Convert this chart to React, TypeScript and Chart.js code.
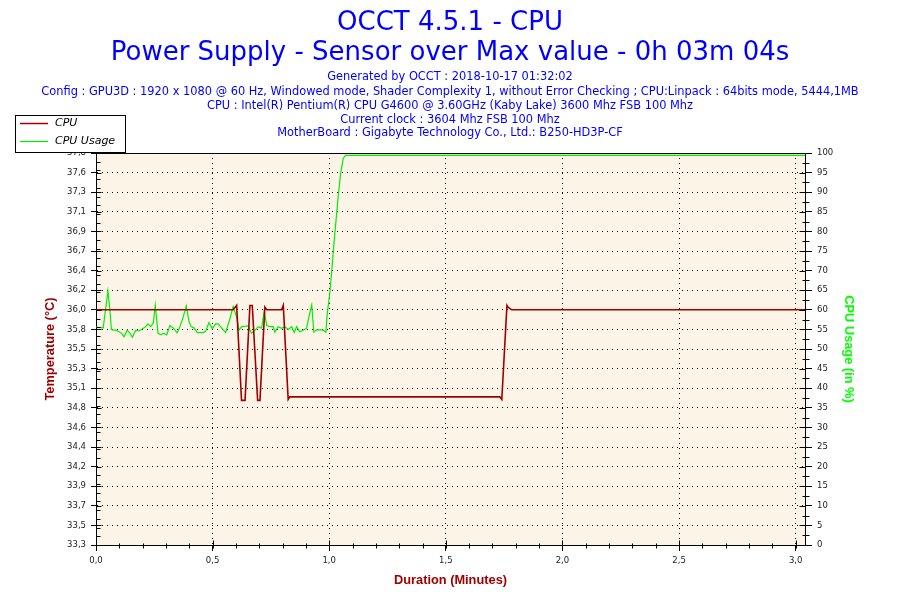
import React, { useEffect, useRef } from 'react';
import { Chart, registerables } from 'chart.js';

Chart.register(...registerables);

const titleLines = ['OCCT 4.5.1 - CPU', 'Power Supply - Sensor over Max value - 0h 03m 04s'];
const infoLines = [
  'Generated by OCCT : 2018-10-17 01:32:02',
  'Config : GPU3D : 1920 x 1080 @ 60 Hz, Windowed mode, Shader Complexity 1, without Error Checking ; CPU:Linpack : 64bits mode, 5444,1MB',
  'CPU : Intel(R) Pentium(R) CPU G4600 @ 3.60GHz (Kaby Lake) 3600 Mhz FSB 100 Mhz',
  'Current clock : 3604 Mhz FSB 100 Mhz',
  'MotherBoard : Gigabyte Technology Co., Ltd.: B250-HD3P-CF',
];
const legendLabels = ['CPU', 'CPU Usage'];
const xTitle = 'Duration (Minutes)';
const yTitle = 'Temperature (°C)';
const y1Title = 'CPU Usage (in %)';

// Temperature series (minutes, °C)
const tempTimes = [0, 0.588, 0.603, 0.624, 0.639, 0.66, 0.67, 0.693, 0.703, 0.724, 0.732, 0.796, 0.803, 0.824, 0.831, 1.732, 1.74, 1.762, 1.767, 1.782, 3.04];
const tempValues = [36.0, 36.0, 36.05, 34.96, 34.96, 36.05, 36.05, 34.96, 34.96, 36.03, 36.0, 36.0, 36.05, 34.97, 35.0, 35.0, 34.97, 36.05, 36.03, 36.0, 36.0];

// CPU usage series (minutes, %)
const usageTimes = [
  0, 0.031, 0.051, 0.059, 0.066, 0.074, 0.086, 0.099, 0.11, 0.12,
  0.134, 0.146, 0.156, 0.17, 0.184, 0.198, 0.213, 0.223, 0.234, 0.246,
  0.254, 0.266, 0.277, 0.291, 0.303, 0.317, 0.334, 0.348, 0.36, 0.374,
  0.387, 0.399, 0.408, 0.42, 0.434, 0.46, 0.47, 0.484, 0.499, 0.513,
  0.524, 0.539, 0.556, 0.574, 0.588, 0.603, 0.613, 0.625, 0.639, 0.653,
  0.667, 0.682, 0.696, 0.71, 0.721, 0.732, 0.746, 0.76, 0.767, 0.781,
  0.796, 0.81, 0.824, 0.839, 0.85, 0.86, 0.874, 0.889, 0.903, 0.913,
  0.925, 0.934, 0.946, 0.96, 0.974, 0.986, 0.991, 1.003, 1.01, 1.017,
  1.024, 1.032, 1.039, 1.049, 1.06, 1.07, 3.04,
];
const usageValues = [
  55.6, 55.4, 64.8, 60.4, 55.0, 54.8, 54.8, 54.4, 54.0, 53.1,
  54.8, 54.0, 53.0, 54.8, 54.6, 55.1, 55.7, 56.4, 55.7, 56.7,
  61.2, 54.0, 53.7, 54.0, 53.6, 56.0, 55.2, 54.1, 55.7, 58.2,
  61.0, 57.0, 55.7, 55.4, 54.2, 54.2, 54.5, 56.7, 55.2, 56.4,
  56.4, 55.3, 54.2, 57.7, 60.8, 58.2, 54.8, 55.7, 55.8, 55.9,
  54.0, 54.8, 55.7, 55.3, 59.6, 56.0, 55.7, 55.7, 54.3, 55.7,
  55.3, 55.7, 55.0, 55.7, 54.2, 55.7, 54.4, 54.8, 55.3, 58.2,
  61.2, 54.3, 54.9, 54.9, 54.8, 54.3, 58.7, 64.6, 69.3, 74.4,
  79.5, 84.6, 89.3, 94.8, 98.6, 99.4, 99.4,
];

const xTickValues = [0, 0.5, 1.0, 1.5, 2.0, 2.5, 3.0];
const tempTickLabels = ['33,3', '33,5', '33,7', '33,9', '34,2', '34,4', '34,6', '34,8', '35,1', '35,3', '35,5', '35,8', '36,0', '36,2', '36,4', '36,7', '36,9', '37,1', '37,3', '37,6', '37,8'];

const X_MIN = 0;
const X_MAX = 3.04;
const TEMP_MIN = 33.3;
const TEMP_MAX = 37.8;
const USAGE_MIN = 0;
const USAGE_MAX = 100;

const RED = '#a00000';
const GREEN = '#00ee00';
const BLUE = '#0000ff';
const CREAM = '#fcf5e7';
const TICK_FONT = { family: 'DejaVu Sans', size: 8.5 };
const AXIS_TITLE_FONT = { family: 'Liberation Sans', size: 12.8, weight: 'bold' as const };

const decorPlugin = {
  id: 'occtDecor',
  beforeDraw(chart: any) {
    const { ctx, chartArea: a } = chart;
    ctx.save();
    ctx.fillStyle = '#ffffff';
    ctx.fillRect(0, 0, chart.width, chart.height);
    ctx.fillStyle = CREAM;
    ctx.fillRect(a.left, a.top, a.right - a.left, a.bottom - a.top);
    ctx.restore();
  },
  beforeDatasetsDraw(chart: any) {
    const { ctx, chartArea: a } = chart;
    ctx.save();
    ctx.strokeStyle = '#000';
    ctx.lineWidth = 1;
    ctx.strokeRect(Math.round(a.left) + 0.5, Math.round(a.top) + 0.5, Math.round(a.right - a.left), Math.round(a.bottom - a.top));
    ctx.restore();
  },
  afterDraw(chart: any) {
    const { ctx, chartArea: a, scales } = chart;
    const xs = scales.x;
    const ys = scales.y;
    const y1s = scales.y1;
    ctx.save();
    ctx.strokeStyle = '#000';
    ctx.lineWidth = 1;
    ctx.beginPath();
    const L = Math.round(a.left) + 0.5;
    const R = Math.round(a.right) + 0.5;
    const B = Math.round(a.bottom) + 0.5;
    // left axis: inner part of majors and minor ticks
    ys.ticks.forEach((t: any) => {
      const y = Math.round(ys.getPixelForValue(t.value)) + 0.5;
      ctx.moveTo(L, y); ctx.lineTo(L + 5, y);
    });
    for (let v = TEMP_MIN; v <= TEMP_MAX + 1e-6; v += 0.1) {
      const y = Math.round(ys.getPixelForValue(v)) + 0.5;
      ctx.moveTo(L, y); ctx.lineTo(L + 4, y);
    }
    // right axis
    y1s.ticks.forEach((t: any) => {
      const y = Math.round(y1s.getPixelForValue(t.value)) + 0.5;
      ctx.moveTo(R - 6, y); ctx.lineTo(R, y);
    });
    for (let v = USAGE_MIN + 2.5; v < USAGE_MAX; v += 5) {
      const y = Math.round(y1s.getPixelForValue(v)) + 0.5;
      ctx.moveTo(R - 3, y); ctx.lineTo(R + 4, y);
    }
    // bottom axis
    xs.ticks.forEach((t: any) => {
      const x = Math.round(xs.getPixelForValue(t.value)) + 0.5;
      ctx.moveTo(x, B); ctx.lineTo(x, B - 5);
    });
    for (let v = 0.1; v < X_MAX; v += 0.1) {
      const x = Math.round(xs.getPixelForValue(v)) + 0.5;
      ctx.moveTo(x, B - 2); ctx.lineTo(x, B + 3);
    }
    ctx.stroke();

    // titles
    ctx.fillStyle = BLUE;
    ctx.textAlign = 'center';
    ctx.textBaseline = 'alphabetic';
    ctx.font = '26px "DejaVu Sans"';
    ctx.fillText(titleLines[0], 450, 29.5);
    ctx.fillText(titleLines[1], 450, 59.5);
    ctx.font = '11.4px "DejaVu Sans"';
    const infoY = [80, 94.5, 108.5, 122.5, 136];
    infoLines.forEach((s, i) => ctx.fillText(s, 450, infoY[i]));

    // legend
    const lx = 15.5, ly = 115.5, lw = 110, lh = 37;
    ctx.fillStyle = '#ffffff';
    ctx.fillRect(lx, ly, lw, lh);
    ctx.strokeStyle = '#000';
    ctx.strokeRect(lx, ly, lw, lh);
    const colors = [RED, GREEN];
    const rows = [123, 141];
    ctx.font = 'italic 11px "DejaVu Sans"';
    ctx.textAlign = 'left';
    ctx.textBaseline = 'middle';
    legendLabels.forEach((lab, i) => {
      ctx.strokeStyle = colors[i];
      ctx.lineWidth = i === 0 ? 1.5 : 1.2;
      ctx.beginPath();
      ctx.moveTo(20, rows[i] + 0.5);
      ctx.lineTo(48, rows[i] + 0.5);
      ctx.stroke();
      ctx.fillStyle = '#000';
      ctx.fillText(lab, 55, rows[i]);
    });
    ctx.restore();
  },
};

export default function App() {
  const ref = useRef<HTMLCanvasElement | null>(null);
  useEffect(() => {
    document.body.style.margin = '0';
    const canvas = ref.current;
    if (!canvas) return;
    const chart = new Chart(canvas, {
      type: 'line',
      data: {
        datasets: [
          {
            label: legendLabels[0],
            data: tempTimes.map((t, i) => ({ x: t, y: tempValues[i] })),
            yAxisID: 'y',
            borderColor: RED,
            borderWidth: 1.6,
            pointRadius: 0,
            tension: 0,
            fill: false,
          },
          {
            label: legendLabels[1],
            data: usageTimes.map((t, i) => ({ x: t, y: usageValues[i] })),
            yAxisID: 'y1',
            borderColor: GREEN,
            borderWidth: 1.2,
            pointRadius: 0,
            tension: 0,
            fill: false,
          },
        ],
      },
      options: {
        animation: false,
        responsive: false,
        devicePixelRatio: 1,
        layout: { padding: { top: 153, left: 0, right: 0, bottom: 0 } },
        plugins: {
          legend: { display: false },
          tooltip: { enabled: false },
          title: { display: false },
        },
        scales: {
          x: {
            type: 'linear',
            min: X_MIN,
            max: X_MAX,
            afterBuildTicks: (s: any) => {
              s.ticks = xTickValues.map((v) => ({ value: v }));
            },
            afterFit: (s: any) => {
              s.height = 55;
            },
            ticks: {
              autoSkip: false,
              maxRotation: 0,
              padding: 5,
              color: '#222',
              font: TICK_FONT,
              callback: (v: any) => Number(v).toFixed(1).replace('.', ','),
            },
            grid: { color: '#000', tickColor: '#000', tickLength: 6 },
            border: { display: true, color: '#000', dash: [1, 4] },
            title: {
              display: true,
              text: xTitle,
              color: RED,
              font: AXIS_TITLE_FONT,
              padding: { top: 0, bottom: 12.3 },
            },
          },
          y: {
            type: 'linear',
            position: 'left',
            min: TEMP_MIN,
            max: TEMP_MAX,
            afterBuildTicks: (s: any) => {
              const n = tempTickLabels.length;
              s.ticks = tempTickLabels.map((_, i) => ({ value: TEMP_MIN + (i * (TEMP_MAX - TEMP_MIN)) / (n - 1) }));
            },
            afterFit: (s: any) => {
              s.width = 96;
            },
            ticks: {
              autoSkip: false,
              padding: 5,
              color: '#222',
              font: TICK_FONT,
              callback: (_v: any, i: number) => tempTickLabels[i],
            },
            grid: { color: '#000', tickColor: '#000', tickLength: 5 },
            border: { display: true, color: '#000', dash: [1, 4] },
            title: {
              display: true,
              text: yTitle,
              color: RED,
              font: AXIS_TITLE_FONT,
              padding: { top: 42.8, bottom: 0 },
            },
          },
          y1: {
            type: 'linear',
            position: 'right',
            min: USAGE_MIN,
            max: USAGE_MAX,
            afterFit: (s: any) => {
              s.width = 95;
            },
            ticks: {
              stepSize: 5,
              autoSkip: false,
              padding: 5,
              color: '#222',
              font: TICK_FONT,
            },
            grid: { drawOnChartArea: false, color: '#000', tickColor: '#000', tickLength: 7 },
            border: { display: true, color: '#000' },
            title: {
              display: true,
              text: y1Title,
              color: '#00ff00',
              font: AXIS_TITLE_FONT,
              padding: { top: 44, bottom: 0 },
            },
          },
        },
      },
      plugins: [decorPlugin],
    } as any);
    return () => chart.destroy();
  }, []);
  return <canvas ref={ref} width={900} height={600} style={{ display: 'block' }} />;
}
